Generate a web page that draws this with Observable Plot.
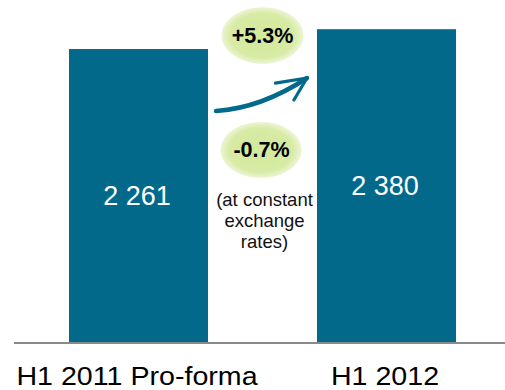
<!DOCTYPE html>
<html><head><meta charset="utf-8">
<script src="https://cdn.jsdelivr.net/npm/d3@7"></script>
<script src="https://cdn.jsdelivr.net/npm/@observablehq/plot@0.6"></script>
<style>body{margin:0;background:#fff;overflow:hidden}</style>
</head><body><div id="chart"></div>
<script>
const categories = ["H1 2011 Pro-forma", "H1 2012"];
const values = [2261, 2380];
const valueLabels = ["2 261", "2 380"];
const changeLabels = ["+5.3%", "-0.7%"];
const noteLabel = "(at constant\nexchange\nrates)";
const axisFloor = 500;
const axisTop = 2500;

const data = categories.map((c, i) => ({category: c, value: values[i], label: valueLabels[i]}));

const FONT = "'Liberation Sans', Arial, sans-serif";
const TEAL = "#03698a";

// ellipse symbol for the change badges
const ellipse = {
  draw(ctx, size) {
    const rx = Math.sqrt(size / Math.PI), ry = rx * 0.69, k = 0.5523;
    ctx.moveTo(rx, 0);
    ctx.bezierCurveTo(rx, ry * k, rx * k, ry, 0, ry);
    ctx.bezierCurveTo(-rx * k, ry, -rx, ry * k, -rx, 0);
    ctx.bezierCurveTo(-rx, -ry * k, -rx * k, -ry, 0, -ry);
    ctx.bezierCurveTo(rx * k, -ry, rx, -ry * k, rx, 0);
    ctx.closePath();
  }
};

// curved growth arrow between the two bars
function growthArrow(index, scales, values, dims) {
  const x = scales.x;
  const bw = x.bandwidth ? x.bandwidth() : 140;
  const x0 = x(categories[0]) + bw + 8;
  const x1 = x(categories[1]) - 10;
  const top = dims.marginTop;
  const s = [x0, top + 111], e = [x1, top + 78];
  const c = [(x0 + x1) / 2, top + 108];
  const g = d3.create("svg:g").attr("fill", "none").attr("stroke", TEAL)
    .attr("stroke-linecap", "round").attr("stroke-linejoin", "round");
  g.append("path").attr("stroke-width", 4.5)
    .attr("d", `M${s[0]},${s[1]}Q${c[0]},${c[1]} ${e[0]},${e[1]}`);
  const ang = Math.atan2(e[1] - c[1], e[0] - c[0]) + Math.PI;
  const L = 32;
  const b1 = [e[0] + L * Math.cos(ang + 0.42), e[1] + L * Math.sin(ang + 0.42)];
  const b2 = [e[0] + L * 0.8 * Math.cos(ang - 0.45), e[1] + L * 0.8 * Math.sin(ang - 0.45)];
  g.append("path").attr("stroke-width", 3.2)
    .attr("d", `M${b1[0]},${b1[1]}L${e[0]},${e[1]}L${b2[0]},${b2[1]}`);
  return g.node();
}

const plot = Plot.plot({
  width: 505,
  height: 390,
  marginTop: 0,
  marginLeft: 14,
  marginRight: 0,
  marginBottom: 47.5,
  style: {fontFamily: FONT, background: "#fff"},
  x: {domain: categories, range: [20, 505], paddingInner: 0.4378, paddingOuter: 0.1928, label: null},
  y: {domain: [axisFloor, axisTop], range: [342.5, 9.2], clamp: true, axis: null},
  marks: [
    Plot.barY(data, {x: "category", y: "value", fill: TEAL}),
    Plot.ruleY([axisFloor], {stroke: "#8a8a8a", strokeWidth: 2}),
    Plot.axisX({tickSize: 0, tickPadding: 23.5, fontSize: 26, dx: -2, fill: "#000", label: null}),
    Plot.text(data, {x: "category", y: d => (axisFloor + d.value) / 2, text: "label", fill: "#fff", fontSize: 27, dx: -2}),
    Plot.dot([changeLabels[0]], {frameAnchor: "top", dx: 2.5, dy: 35, r: 41, symbol: ellipse, fill: "url(#badge)", stroke: "none"}),
    Plot.dot([changeLabels[1]], {frameAnchor: "top", dx: 1, dy: 149.5, r: 40.5, symbol: ellipse, fill: "url(#badge)", stroke: "none"}),
    Plot.text([changeLabels[0]], {text: d => d, frameAnchor: "top", lineAnchor: "middle", dx: 2.5, dy: 36, fontSize: 21.5, fontWeight: "bold", fill: "#000"}),
    Plot.text([changeLabels[1]], {text: d => d, frameAnchor: "top", lineAnchor: "middle", dx: 1.5, dy: 150, fontSize: 21.5, fontWeight: "bold", fill: "#000"}),
    Plot.text([noteLabel], {text: d => d, frameAnchor: "top", lineAnchor: "middle", dx: 4.5, dy: 220, fontSize: 18.5, lineHeight: 1.13, fill: "#111"}),
    growthArrow
  ]
});

const defs = d3.select(plot).insert("defs", ":first-child");
const grad = defs.append("radialGradient").attr("id", "badge").attr("cx", "50%").attr("cy", "50%").attr("r", "50%");
grad.append("stop").attr("offset", "0%").attr("stop-color", "#d3e99c");
grad.append("stop").attr("offset", "78%").attr("stop-color", "#d7eba4");
grad.append("stop").attr("offset", "100%").attr("stop-color", "#ecf5d4");

document.getElementById("chart").append(plot);

// the reference's category labels are set slightly wide
d3.select(plot).selectAll("g[aria-label='x-axis tick label'] text").each(function() {
  const w = this.getComputedTextLength();
  if (w > 0) this.setAttribute("textLength", (w * 1.1).toFixed(1)), this.setAttribute("lengthAdjust", "spacingAndGlyphs");
});
</script>
</body></html>
